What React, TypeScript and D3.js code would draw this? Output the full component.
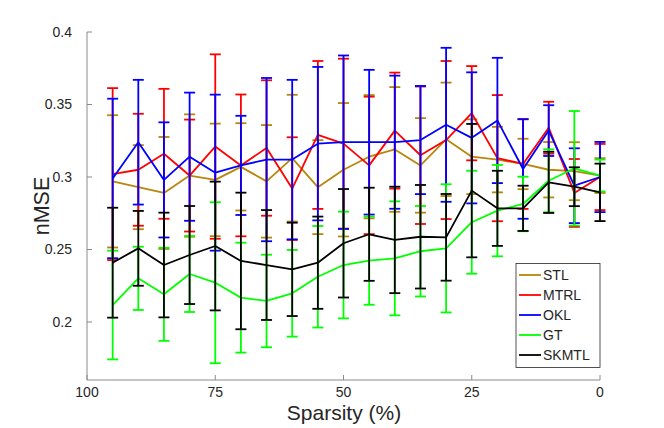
import * as d3 from 'd3';

const sparsity = [95, 90, 85, 80, 75, 70, 65, 60, 55, 50, 45, 40, 35, 30, 25, 20, 15, 10, 5, 0];

const stlMean = [0.297, 0.293, 0.289, 0.301, 0.298, 0.307, 0.297, 0.313, 0.293, 0.305, 0.314, 0.319, 0.308, 0.326, 0.314, 0.312, 0.309, 0.305, 0.304, 0.301];
const stlErr = [0.0456, 0.029, 0.0386, 0.0422, 0.0388, 0.0301, 0.0388, 0.0437, 0.0324, 0.046, 0.0425, 0.043, 0.0326, 0.0391, 0.0258, 0.0226, 0.0174, 0.0191, 0.02, 0.012];

const mtrlMean = [0.302, 0.305, 0.316, 0.301, 0.321, 0.308, 0.320, 0.292, 0.329, 0.323, 0.308, 0.332, 0.315, 0.3255, 0.344, 0.313, 0.309, 0.334, 0.289, 0.300];
const mtrlErr = [0.0593, 0.0386, 0.0448, 0.0386, 0.0636, 0.0489, 0.0467, 0.0354, 0.051, 0.0586, 0.0474, 0.04, 0.0474, 0.0545, 0.0325, 0.0435, 0.031, 0.0179, 0.0234, 0.0228];

const oklMean = [0.299, 0.324, 0.298, 0.314, 0.303, 0.308, 0.312, 0.312, 0.323, 0.324, 0.324, 0.324, 0.3255, 0.336, 0.327, 0.339, 0.3055, 0.332, 0.294, 0.300];
const oklErr = [0.055, 0.043, 0.0397, 0.0442, 0.0538, 0.0342, 0.0563, 0.055, 0.0529, 0.0598, 0.0499, 0.0459, 0.0373, 0.0531, 0.0452, 0.0432, 0.0343, 0.0175, 0.0258, 0.0242];

const gtMean = [0.2117, 0.2301, 0.2191, 0.2331, 0.2271, 0.2168, 0.2145, 0.2198, 0.2312, 0.2393, 0.2423, 0.2439, 0.2488, 0.2508, 0.2688, 0.2768, 0.2814, 0.2974, 0.306, 0.301];
const gtErr = [0.0375, 0.0218, 0.0321, 0.0262, 0.0555, 0.0379, 0.0319, 0.0299, 0.035, 0.0368, 0.0304, 0.0393, 0.0312, 0.0442, 0.0355, 0.0315, 0.0188, 0.0217, 0.0395, 0.011];

const skmtlMean = [0.2409, 0.2508, 0.2393, 0.2462, 0.2524, 0.2421, 0.2393, 0.2363, 0.2409, 0.2543, 0.2605, 0.2566, 0.2588, 0.2584, 0.2906, 0.2784, 0.2784, 0.2963, 0.2933, 0.2894];
const skmtlErr = [0.0379, 0.0258, 0.0361, 0.0338, 0.0444, 0.0471, 0.0379, 0.0322, 0.0318, 0.0374, 0.0321, 0.0367, 0.0357, 0.0299, 0.046, 0.0259, 0.0156, 0.0211, 0.0134, 0.0198];

const xTicks = [100, 75, 50, 25, 0];
const yTicks = [0.2, 0.25, 0.3, 0.35, 0.4];

const series = [
  { name: 'STL', color: '#b8860b', mean: stlMean, err: stlErr },
  { name: 'MTRL', color: '#ff0000', mean: mtrlMean, err: mtrlErr },
  { name: 'OKL', color: '#0000ff', mean: oklMean, err: oklErr },
  { name: 'GT', color: '#00ff00', mean: gtMean, err: gtErr },
  { name: 'SKMTL', color: '#000000', mean: skmtlMean, err: skmtlErr },
];

const width = 664;
const height = 428;
const font = '"Liberation Sans", Arial, Helvetica, sans-serif';

export default function App() {
  const x = d3.scaleLinear().domain([100, 0]).range([87, 600]);
  const y = d3.scaleLinear().domain([0.16, 0.4]).range([380, 32]);
  const cap = 5.5;

  const line = d3.line<number>()
    .x((_, i) => x(sparsity[i]))
    .y(d => y(d));

  const axisColor = '#8a8a8a';
  const textColor = '#262626';

  return (
    <svg width={width} height={height} style={{ position: 'absolute', left: 0, top: 0, background: '#fff' }}>
      {/* axes */}
      <line x1={x(100)} x2={x(0)} y1={y(0.16)} y2={y(0.16)} stroke={axisColor} strokeWidth={1} />
      <line x1={x(100)} x2={x(100)} y1={y(0.16)} y2={y(0.4)} stroke={axisColor} strokeWidth={1} />
      {xTicks.map(t => (
        <g key={'x' + t}>
          <line x1={x(t)} x2={x(t)} y1={y(0.16)} y2={y(0.16) - 5} stroke={axisColor} />
          <text x={x(t)} y={y(0.16) + 16.5} textAnchor="middle" fontFamily={font} fontSize={14} fill={textColor}>{t}</text>
        </g>
      ))}
      {yTicks.map(t => (
        <g key={'y' + t}>
          <line x1={x(100)} x2={x(100) + 5} y1={y(t)} y2={y(t)} stroke={axisColor} />
          <text x={x(100) - 15} y={y(t)} dy="0.35em" textAnchor="end" fontFamily={font} fontSize={14} fill={textColor}>{t}</text>
        </g>
      ))}
      <text x={344} y={419.5} textAnchor="middle" fontFamily={font} fontSize={21} fill={textColor}>Sparsity (%)</text>
      <text transform={`translate(48.5,206) rotate(-90)`} textAnchor="middle" fontFamily={font} fontSize={21.5} fill={textColor}>nMSE</text>

      {/* series: line then error bars, in plotting order */}
      {series.map(s => (
        <g key={s.name} stroke={s.color} strokeWidth={1.8} fill="none">
          <path d={line(s.mean) || ''} strokeLinejoin="round" />
          {s.mean.map((m, i) => {
            const cx = x(sparsity[i]);
            const lo = y(m - s.err[i]);
            const hi = y(m + s.err[i]);
            return (
              <g key={i}>
                <line x1={cx} x2={cx} y1={lo} y2={hi} />
                <line x1={cx - cap} x2={cx + cap} y1={lo} y2={lo} />
                <line x1={cx - cap} x2={cx + cap} y1={hi} y2={hi} />
              </g>
            );
          })}
        </g>
      ))}

      {/* legend */}
      <rect x={516} y={263.5} width={84} height={104} fill="#fff" stroke="#262626" strokeWidth={0.8} />
      {series.map((s, i) => (
        <g key={'lg' + s.name}>
          <line x1={519} x2={541} y1={275 + i * 20} y2={275 + i * 20} stroke={s.color} strokeWidth={1.8} />
          <text x={543} y={275 + i * 20} dy="0.36em" fontFamily={font} fontSize={14} fill={textColor}>{s.name}</text>
        </g>
      ))}
    </svg>
  );
}
